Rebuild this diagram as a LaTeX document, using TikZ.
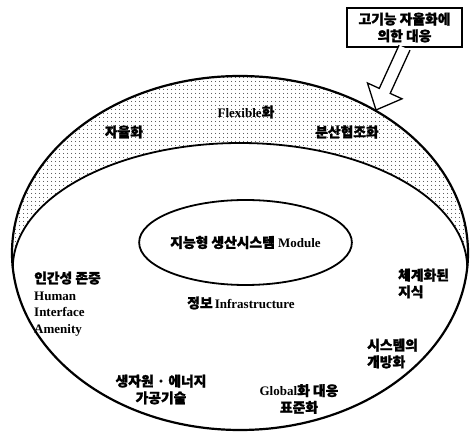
\documentclass[tikz,border=0pt]{standalone}
\usepackage{fontspec}
\setmainfont{Liberation Serif}
\newfontfamily\kr[Scale=1.06, FakeBold=1.6]{Noto Sans CJK KR}
\usetikzlibrary{patterns.meta,shapes.geometric,calc}
\begin{document}
\begin{tikzpicture}[x=1pt,y=1pt,
  lbl/.style={font=\fontsize{13}{16.8}\selectfont\bfseries, inner sep=0pt},
  rim/.style={line width=2.2pt},
  band/.style={pattern={Dots[distance=4pt, radius=0.6pt]}, pattern color=black!85}]
\useasboundingbox (0,0) rectangle (470,433);
% dotted band
\fill[band] (240,180) ++(-4.86:228 and 177)
  arc[start angle=-4.86, end angle=184.86, x radius=228, y radius=177]
  arc[start angle=180, end angle=0, x radius=227.2, y radius=125] -- cycle;
\draw[rim] (240,180) ellipse[x radius=228, y radius=177];
\draw[line width=1.8pt] (12.8,165) arc[start angle=180, end angle=0, x radius=227.2, y radius=125];
% module ellipse
\node[ellipse, draw, line width=1.8pt, minimum width=205, minimum height=85, lbl] (mod) at (245.5,190.5)
  {{\kr 지능형 생산시스템} Module};
% labels
\node[lbl] (flex) at (246,321) {Flexible{\kr 화}};
\node[lbl] (auto) at (124,301) {\kr 자율화};
\node[lbl] (dist) at (347,301) {\kr 분산협조화};
\node[lbl] (info) at (241,130) {{\kr 정보}\,Infrastructure};
\node[lbl, align=left, anchor=west] (human) at (34,129) {{\kr 인간성 존중}\\Human\\Interface\\Amenity};
\node[lbl, align=left, anchor=west] (know) at (398,149.5) {{\kr 체계화된}\\{\kr 지식}};
\node[lbl, align=left, anchor=west] (open) at (367,79.5) {{\kr 시스템의}\\{\kr 개방화}};
\node[lbl, align=center] (res) at (161,43.5) {{\kr 생자원 · 에너지}\\{\kr 가공기술}};
\node[lbl, align=center] (glob) at (299,34) {Global{\kr 화 대응}\\{\kr 표준화}};
% box and arrow
\node[lbl, draw, line width=1.4pt, minimum width=115, minimum height=39, align=center] (box) at (404.5,405.5)
  {{\kr 고기능 자율화에}\\{\kr 의한 대응}};
\coordinate (tip) at (376,323);
\coordinate (H) at ($(tip)!21pt!(box.south)$);
\draw[fill=white, line width=1.3pt, line join=miter]
  ($(box.south)!6pt!90:(tip)$) -- ($(H)!6pt!90:(tip)$) -- ($(H)!19pt!90:(tip)$) -- (tip)
  -- ($(H)!19pt!-90:(tip)$) -- ($(H)!6pt!-90:(tip)$) -- ($(box.south)!6pt!-90:(tip)$);
\end{tikzpicture}
\end{document}
